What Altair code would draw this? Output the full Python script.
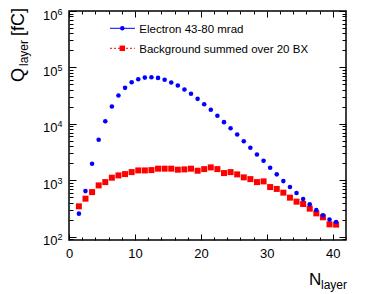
import altair as alt
import pandas as pd

# ---------------- data ----------------
layer_n = [1.5, 2.5, 3.5, 4.5, 5.5, 6.5, 7.5, 8.5, 9.5, 10.5,
           11.5, 12.5, 13.5, 14.5, 15.5, 16.5, 17.5, 18.5, 19.5, 20.5,
           21.5, 22.5, 23.5, 24.5, 25.5, 26.5, 27.5, 28.5, 29.5, 30.5,
           31.5, 32.5, 33.5, 34.5, 35.5, 36.5, 37.5, 38.5, 39.5, 40.5]
electron = [255, 640, 1960, 5200, 11100, 20200, 31700, 43400, 54500, 61500,
            65900, 66800, 65100, 60500, 53800, 47600, 40500, 34000, 27700, 22200,
            17700, 13900, 10700, 8350, 6470, 4920, 3760, 2860, 2210, 1660,
            1270, 964, 755, 591, 463, 373, 296, 238, 200, 181]
background = [344, 470, 615, 809, 925, 1107, 1216, 1283, 1391, 1490,
              1490, 1510, 1600, 1600, 1600, 1535, 1554, 1600, 1472, 1572,
              1686, 1572, 1337, 1391, 1268, 1122, 1045, 925, 952, 755,
              700, 601, 490, 416, 378, 313, 258, 220, 165, 163]
series_names = ["Electron 43-80 mrad", "Background summed over 20 BX"]

x_major = [0, 10, 20, 30, 40]
x_minor = [2, 4, 6, 8, 12, 14, 16, 18, 22, 24, 26, 28, 32, 34, 36, 38]
y_major = [1e2, 1e3, 1e4, 1e5, 1e6]
y_exp = ["2", "3", "4", "5", "6"]
y_minor = [90,
           200, 300, 400, 500, 600, 700, 800, 900,
           2000, 3000, 4000, 5000, 6000, 7000, 8000, 9000,
           20000, 30000, 40000, 50000, 60000, 70000, 80000, 90000,
           200000, 300000, 400000, 500000, 600000, 700000, 800000, 900000]

FONT = "Liberation Sans"
BLUE = "#0000ff"
RED = "#ff0000"

df = pd.DataFrame({"n": layer_n, "e": electron, "b": background})
df_yl = pd.DataFrame({"v": y_major, "ex": y_exp})
one = pd.DataFrame({"k": [0]})

xs = alt.Scale(domain=[0, 42], nice=False, zero=False)
ys = alt.Scale(type="log", domain=[87, 1e6], nice=False)


def tick_axis(orient, values, size):
    return alt.Axis(orient=orient, values=values, labels=False, domain=False,
                    ticks=True, tickSize=size, offset=-size, tickColor="black",
                    tickWidth=1, grid=False, title=None)


x_label_axis = alt.Axis(orient="bottom", values=x_major, ticks=False, tickSize=0,
                        domain=False, labelPadding=7, labelFont=FONT,
                        labelFontSize=13, labelColor="black", labelFlush=False,
                        labelOverlap=False, grid=False, title=None, format="d")

# data layers
red = alt.Chart(df).mark_square(size=36, color=RED, opacity=1).encode(
    x=alt.X("n:Q", scale=xs, axis=tick_axis("bottom", x_major, 6)),
    y=alt.Y("b:Q", scale=ys, axis=tick_axis("right", y_major, 7)),
)
blue = alt.Chart(df).mark_circle(size=21, color=BLUE, opacity=1).encode(
    x=alt.X("n:Q", scale=xs, axis=x_label_axis),
    y=alt.Y("e:Q", scale=ys, axis=tick_axis("left", y_major, 7)),
)
h1 = alt.Chart(df).mark_circle(opacity=0).encode(
    x=alt.X("n:Q", scale=xs, axis=tick_axis("top", x_major, 6)),
    y=alt.Y("e:Q", scale=ys, axis=tick_axis("left", y_minor, 4)),
)
h2 = alt.Chart(df).mark_circle(opacity=0).encode(
    x=alt.X("n:Q", scale=xs, axis=tick_axis("top", x_minor, 3)),
    y=alt.Y("e:Q", scale=ys, axis=tick_axis("right", y_minor, 4)),
)
h3 = alt.Chart(df).mark_circle(opacity=0).encode(
    x=alt.X("n:Q", scale=xs, axis=tick_axis("bottom", x_minor, 3)),
    y=alt.Y("e:Q", scale=ys, axis=None),
)

# y tick labels (10 with superscript exponent)
ylab10 = alt.Chart(df_yl).mark_text(align="right", baseline="alphabetic", dy=8.5,
                                    font=FONT, fontSize=13, color="black").encode(
    x=alt.value(-11.5), y=alt.Y("v:Q", scale=ys, axis=None), text=alt.value("10"))
ylabexp = alt.Chart(df_yl).mark_text(align="left", baseline="alphabetic", dy=3.5,
                                     font=FONT, fontSize=9, color="black").encode(
    x=alt.value(-11.5), y=alt.Y("v:Q", scale=ys, axis=None), text="ex:N")

# legend
leg = [
    alt.Chart(one).mark_rule(color=BLUE, strokeWidth=1).encode(
        x=alt.value(41), x2=alt.value(66), y=alt.value(17.3)),
    alt.Chart(one).mark_circle(size=20, color=BLUE, opacity=1).encode(
        x=alt.value(53.3), y=alt.value(17.3)),
    alt.Chart(one).mark_text(align="left", baseline="alphabetic", font=FONT,
                             fontSize=11.5, color="black").encode(
        x=alt.value(70.3), y=alt.value(22.3), text=alt.value(series_names[0])),
    alt.Chart(one).mark_rule(color=RED, strokeWidth=1, strokeDash=[2, 2]).encode(
        x=alt.value(41), x2=alt.value(66), y=alt.value(37.3)),
    alt.Chart(one).mark_square(size=30, color=RED, opacity=1).encode(
        x=alt.value(53.3), y=alt.value(37.3)),
    alt.Chart(one).mark_text(align="left", baseline="alphabetic", font=FONT,
                             fontSize=11.5, color="black").encode(
        x=alt.value(70.3), y=alt.value(42.3), text=alt.value(series_names[1])),
]

# axis titles
titles = [
    alt.Chart(one).mark_text(align="left", baseline="alphabetic", angle=270,
                             font=FONT, fontSize=18, color="black").encode(
        x=alt.value(-45), y=alt.value(71), text=alt.value("Q")),
    alt.Chart(one).mark_text(align="left", baseline="alphabetic", angle=270,
                             font=FONT, fontSize=12, color="black").encode(
        x=alt.value(-41), y=alt.value(55), text=alt.value("layer")),
    alt.Chart(one).mark_text(align="left", baseline="alphabetic", angle=270,
                             font=FONT, fontSize=18, color="black").encode(
        x=alt.value(-45), y=alt.value(25), text=alt.value("[fC]")),
    alt.Chart(one).mark_text(align="left", baseline="alphabetic",
                             font=FONT, fontSize=17, color="black").encode(
        x=alt.value(240), y=alt.value(273.5), text=alt.value("N")),
    alt.Chart(one).mark_text(align="left", baseline="alphabetic",
                             font=FONT, fontSize=12, color="black").encode(
        x=alt.value(252), y=alt.value(278), text=alt.value("layer")),
]

chart = alt.layer(red, blue, h1, h2, h3, ylab10, ylabexp, *leg, *titles).resolve_axis(
    x="independent", y="independent"
).properties(
    width=277, height=229,
    autosize=alt.AutoSizeParams(type="none"),
    padding={"left": 61, "top": 3, "right": 20, "bottom": 52},
    background="white",
).configure_view(stroke="black", strokeWidth=1.5)

chart.save("out.html", embed_options={"renderer": "svg", "actions": False})
